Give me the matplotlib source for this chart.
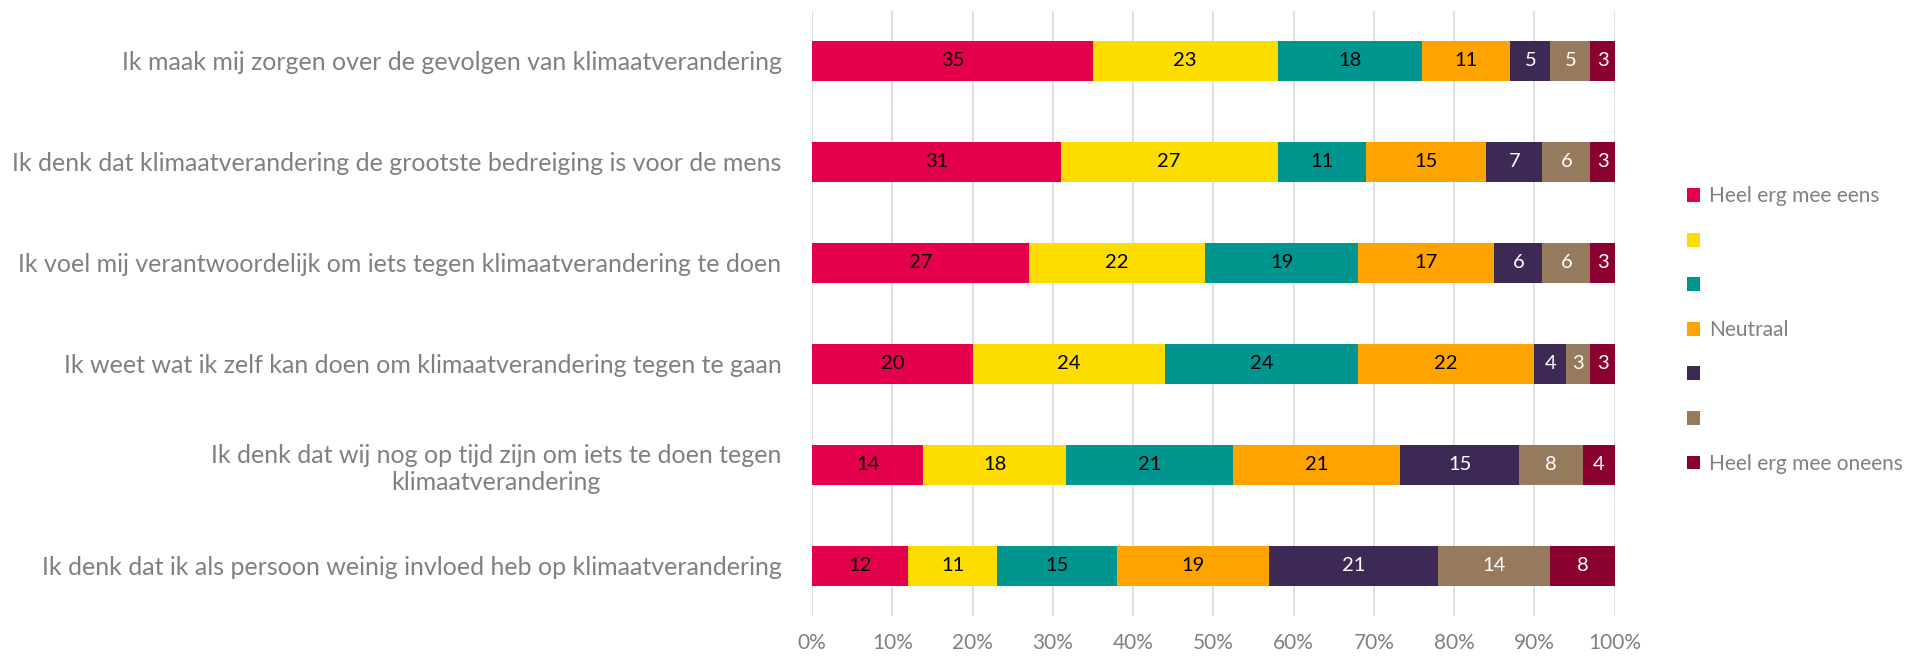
import numpy as np
import matplotlib.pyplot as plt
from matplotlib.patches import Patch

plt.rcParams['font.family'] = ['Lato', 'DejaVu Sans']

statements = [
    'Ik maak mij zorgen over de gevolgen van klimaatverandering',
    'Ik denk dat klimaatverandering de grootste bedreiging is voor de mens',
    'Ik voel mij verantwoordelijk om iets tegen klimaatverandering te doen',
    'Ik weet wat ik zelf kan doen om klimaatverandering tegen te gaan',
    'Ik denk dat wij nog op tijd zijn om iets te doen tegen\nklimaatverandering',
    'Ik denk dat ik als persoon weinig invloed heb op klimaatverandering',
]

legend_labels = ['Heel erg mee eens', '', '', 'Neutraal', '', '', 'Heel erg mee oneens']

# percentages per statement (columns follow the legend order)
heel_eens = [35, 31, 27, 20, 14, 12]
eens = [23, 27, 22, 24, 18, 11]
beetje_eens = [18, 11, 19, 24, 21, 15]
neutraal = [11, 15, 17, 22, 21, 19]
beetje_oneens = [5, 7, 6, 4, 15, 21]
oneens = [5, 6, 6, 3, 8, 14]
heel_oneens = [3, 3, 3, 3, 4, 8]

series = [heel_eens, eens, beetje_eens, neutraal, beetje_oneens, oneens, heel_oneens]
colors = ['#E4004B', '#FDDC00', '#00968F', '#FFA300', '#3D2A54', '#967A5E', '#8A0030']
text_colors = ['black', 'black', 'black', 'black', 'white', 'white', 'white']

vals = np.array(series, dtype=float)
shares = vals / vals.sum(axis=0)

fig = plt.figure(figsize=(19.13, 6.57), dpi=100)
ax = fig.add_axes([0.4245, 0.062, 0.4195, 0.922])

y = np.arange(len(statements))
left = np.zeros(len(statements))
for i in range(len(series)):
    ax.barh(y, shares[i], left=left, height=0.4, color=colors[i], zorder=2)
    for j in range(len(statements)):
        ax.text(left[j] + shares[i][j] / 2, y[j], str(series[i][j]),
                ha='center', va='center', fontsize=14.5, color=text_colors[i], zorder=3)
    left += shares[i]

ax.set_ylim(len(statements) - 0.5, -0.5)
ax.set_xlim(0, 1)
ax.set_xticks(np.arange(0, 1.01, 0.1))
ax.set_xticklabels([f'{p}%' for p in range(0, 101, 10)])
ax.set_yticks(y)
ax.set_yticklabels(statements)
for t in ax.get_yticklabels():
    t.set_multialignment('center')
ax.tick_params(axis='x', length=0, pad=12, labelsize=15, labelcolor='#808080')
ax.tick_params(axis='y', length=0, pad=22, labelsize=18, labelcolor='#808080')
ax.grid(axis='x', color='#d9d9d9', linewidth=1.2, zorder=0)
for s in ax.spines.values():
    s.set_visible(False)

handles = [Patch(facecolor=c) for c in colors]
fig.legend(handles, legend_labels, loc='upper left', bbox_to_anchor=(0.872, 0.745),
           frameon=False, fontsize=15, labelcolor='#808080', handlelength=0.65,
           handleheight=0.65, handletextpad=0.4, labelspacing=1.18)

fig.savefig('out.png', dpi=100)
